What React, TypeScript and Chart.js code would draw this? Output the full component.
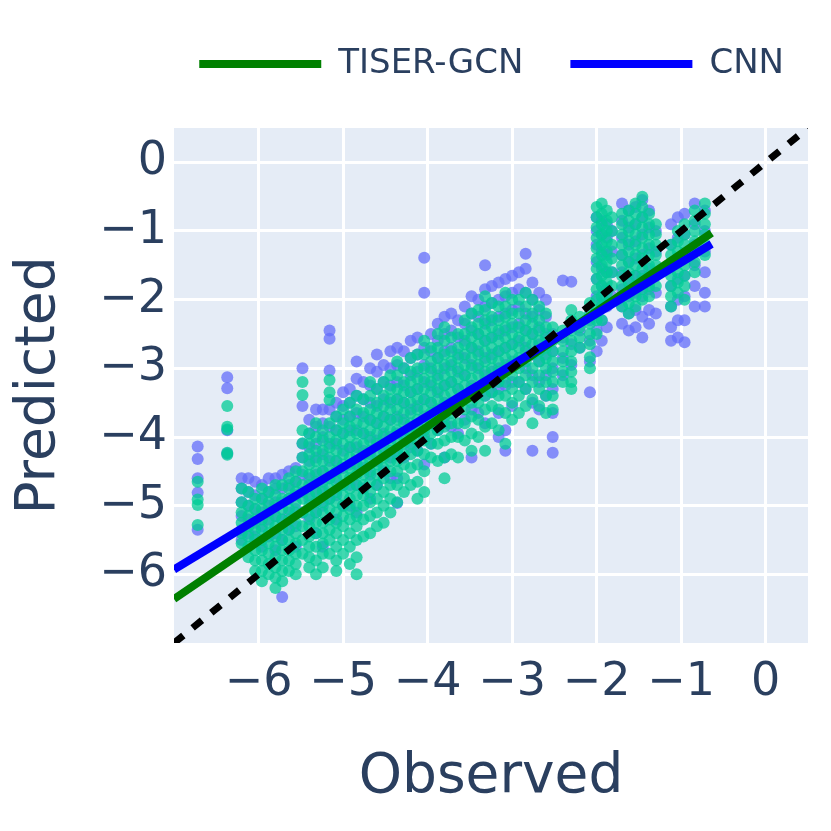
import React, { useEffect, useRef } from 'react';
import { Chart, registerables } from 'chart.js';

Chart.register(...registerables);

// observed value of each vertical stripe of compounds
const observed = [
  -6.72, -6.37, -6.2, -6.12, -6.04, -5.96, -5.88, -5.8, -5.72, -5.64, -5.56, -5.48, -5.4, -5.32,
  -5.24, -5.16, -5.08, -5.0, -4.92, -4.84, -4.76, -4.68, -4.6, -4.52, -4.44, -4.36, -4.28, -4.2,
  -4.12, -4.04, -3.96, -3.88, -3.8, -3.72, -3.64, -3.56, -3.48, -3.4, -3.32, -3.24, -3.16, -3.08,
  -3.0, -2.92, -2.84, -2.76, -2.68, -2.6, -2.52, -2.4, -2.3, -2.2, -2.08, -2.0, -1.94, -1.88,
  -1.82, -1.7, -1.62, -1.54, -1.46, -1.38, -1.3, -1.12, -1.04, -0.96, -0.84, -0.72,
];

// TISER-GCN predictions, one list per stripe
const tiserPredicted = [
  [-4.65, -4.91, -4.99, -5.28],
  [-3.55, -3.85, -3.89, -4.23, -4.26],
  [-4.75, -4.95, -5.1, -5.25, -5.4, -5.55],
  [-4.8, -5.0, -5.15, -5.3, -5.45, -5.6, -5.75],
  [-4.9, -5.05, -5.2, -5.35, -5.5, -5.65, -5.8, -5.95],
  [-4.75, -4.9, -5.05, -5.2, -5.35, -5.5, -5.65, -5.8, -5.95, -6.1],
  [-4.8, -4.95, -5.1, -5.25, -5.4, -5.55, -5.7, -5.85, -6.0],
  [-4.7, -4.85, -5.0, -5.15, -5.3, -5.45, -5.6, -5.75, -5.9, -6.05, -6.2],
  [-4.7, -4.9, -5.05, -5.2, -5.35, -5.5, -5.65, -5.8, -5.95, -6.1],
  [-4.6, -4.75, -4.9, -5.05, -5.2, -5.35, -5.5, -5.65, -5.8, -5.95],
  [-4.5, -4.65, -4.8, -4.95, -5.1, -5.25, -5.4, -5.55, -5.7, -5.85, -6.0],
  [-3.2, -3.39, -3.9, -4.09, -4.3, -4.5, -4.7, -4.9, -5.1, -5.3, -5.5, -5.7],
  [-3.95, -4.1, -4.25, -4.4, -4.55, -4.7, -4.85, -5.0, -5.15, -5.3, -5.45, -5.6, -5.75, -5.9],
  [-3.8, -4.0, -4.2, -4.35, -4.5, -4.65, -4.8, -4.95, -5.1, -5.25, -5.4, -5.6, -5.8, -6.0],
  [-3.9, -4.05, -4.2, -4.35, -4.5, -4.65, -4.8, -4.95, -5.1, -5.25, -5.4, -5.55, -5.7, -5.9],
  [-3.17, -3.35, -3.46, -3.8, -4.0, -4.15, -4.3, -4.45, -4.6, -4.75, -4.9, -5.05, -5.2, -5.35, -5.5, -5.7],
  [-3.7, -3.9, -4.05, -4.2, -4.35, -4.5, -4.65, -4.8, -4.95, -5.1, -5.25, -5.4, -5.6, -5.8, -5.95],
  [-3.6, -3.8, -3.95, -4.1, -4.25, -4.4, -4.55, -4.7, -4.85, -5.0, -5.15, -5.3, -5.5, -5.7],
  [-3.5, -3.7, -3.85, -4.0, -4.15, -4.3, -4.45, -4.6, -4.75, -4.9, -5.05, -5.2, -5.4, -5.6, -5.85],
  [-3.4, -3.6, -3.8, -3.95, -4.1, -4.25, -4.4, -4.55, -4.7, -4.85, -5.0, -5.15, -5.3, -5.5, -5.75, -6.0],
  [-3.45, -3.65, -3.8, -3.95, -4.1, -4.25, -4.4, -4.55, -4.7, -4.85, -5.0, -5.2, -5.45],
  [-3.2, -3.4, -3.6, -3.75, -3.9, -4.05, -4.2, -4.35, -4.5, -4.65, -4.8, -4.95, -5.15, -5.4],
  [-3.3, -3.5, -3.65, -3.8, -3.95, -4.1, -4.25, -4.4, -4.55, -4.7, -4.9, -5.1, -5.3],
  [-3.2, -3.4, -3.55, -3.7, -3.85, -4.0, -4.15, -4.3, -4.45, -4.6, -4.8, -5.0, -5.25],
  [-3.1, -3.3, -3.45, -3.6, -3.75, -3.9, -4.05, -4.2, -4.35, -4.5, -4.7, -4.9, -5.1],
  [-2.9, -3.1, -3.3, -3.45, -3.6, -3.75, -3.9, -4.05, -4.2, -4.35, -4.5, -4.7, -4.95],
  [-3.0, -3.2, -3.35, -3.5, -3.65, -3.8, -3.95, -4.1, -4.25, -4.4, -4.6, -4.8],
  [-2.85, -3.05, -3.2, -3.35, -3.5, -3.65, -3.8, -3.95, -4.1, -4.25, -4.45, -4.7],
  [-2.8, -3.0, -3.15, -3.3, -3.45, -3.6, -3.75, -3.9, -4.05, -4.2, -4.4, -4.65, -4.9],
  [-2.6, -2.8, -3.0, -3.15, -3.3, -3.45, -3.6, -3.75, -3.9, -4.05, -4.25, -4.5, -4.8],
  [-2.7, -2.9, -3.05, -3.2, -3.35, -3.5, -3.65, -3.8, -3.95, -4.1, -4.3],
  [-2.5, -2.7, -2.85, -3.0, -3.15, -3.3, -3.45, -3.6, -3.75, -3.9, -4.1, -4.35],
  [-2.4, -2.6, -2.8, -2.95, -3.1, -3.25, -3.4, -3.55, -3.7, -3.85, -4.05, -4.3, -4.6],
  [-2.55, -2.75, -2.9, -3.05, -3.2, -3.35, -3.5, -3.65, -3.8, -4.0, -4.25],
  [-2.5, -2.7, -2.85, -3.0, -3.15, -3.3, -3.45, -3.6, -3.8, -4.0, -4.3],
  [-2.3, -2.5, -2.65, -2.8, -2.95, -3.1, -3.25, -3.4, -3.6, -3.8, -4.05],
  [-2.2, -2.4, -2.55, -2.7, -2.85, -3.0, -3.15, -3.3, -3.5, -3.7, -3.95, -4.2],
  [-2.15, -2.35, -2.5, -2.65, -2.8, -2.95, -3.1, -3.3, -3.5, -3.75, -4.0],
  [-1.95, -2.15, -2.3, -2.45, -2.6, -2.75, -2.9, -3.05, -3.2, -3.4, -3.6, -3.85, -4.2],
  [-2.05, -2.25, -2.4, -2.55, -2.7, -2.85, -3.0, -3.15, -3.35, -3.55, -3.8],
  [-2.1, -2.3, -2.45, -2.6, -2.75, -2.9, -3.05, -3.2, -3.4, -3.6, -3.9],
  [-1.9, -2.1, -2.25, -2.4, -2.55, -2.7, -2.85, -3.0, -3.2, -3.4, -3.65, -4.1],
  [-2.0, -2.2, -2.35, -2.5, -2.65, -2.8, -2.95, -3.1, -3.3, -3.5, -3.75],
  [-2.0, -2.2, -2.4, -2.55, -2.7, -2.85, -3.0, -3.2, -3.4, -3.65],
  [-1.9, -2.1, -2.3, -2.45, -2.6, -2.75, -2.9, -3.1, -3.3, -3.55],
  [-2.0, -2.2, -2.35, -2.5, -2.65, -2.8, -3.0, -3.2, -3.45, -3.8],
  [-2.1, -2.3, -2.45, -2.6, -2.75, -2.9, -3.1, -3.3, -3.55],
  [-2.2, -2.4, -2.55, -2.7, -2.85, -3.0, -3.2, -3.4, -3.65],
  [-2.4, -2.6, -2.75, -2.9, -3.05, -3.2, -3.4, -3.6],
  [-2.45, -2.6, -2.75, -2.9, -3.05, -3.2],
  [-2.15, -2.3, -2.45, -2.6, -2.75, -2.9, -3.05, -3.2, -3.3],
  [-2.25, -2.4, -2.55, -2.7],
  [-2.05, -2.2, -2.35, -2.5, -2.65, -2.84, -3.0],
  [-0.65, -0.8, -0.95, -1.1, -1.25, -1.4, -1.55, -1.7, -1.85, -2.0, -2.15, -2.3, -2.5],
  [-0.6, -0.75, -0.9, -1.05, -1.2, -1.35, -1.5, -1.65, -1.8, -1.95, -2.1, -2.3],
  [-0.7, -0.85, -1.0, -1.15, -1.3, -1.45, -1.6, -1.75, -1.9, -2.05],
  [-0.8, -1.0, -1.2, -1.4, -1.6, -1.8],
  [-0.75, -0.9, -1.05, -1.2, -1.35, -1.5, -1.65, -1.8, -1.95, -2.1],
  [-0.7, -0.85, -1.0, -1.15, -1.3, -1.45, -1.6, -1.75, -1.9, -2.05, -2.2],
  [-0.6, -0.75, -0.9, -1.05, -1.2, -1.35, -1.5, -1.65, -1.8, -1.95, -2.1],
  [-0.5, -0.65, -0.8, -0.95, -1.1, -1.25, -1.4, -1.55, -1.7, -1.85, -2.0],
  [-0.75, -0.9, -1.05, -1.2, -1.35, -1.5, -1.65, -1.8, -1.95],
  [-0.9, -1.05, -1.2, -1.35, -1.5, -1.65, -1.8],
  [-1.2, -1.35, -1.5, -1.65, -1.8, -1.95, -2.1],
  [-1.0, -1.15, -1.3, -1.45, -1.6, -1.75, -1.9],
  [-0.9, -1.05, -1.2, -1.35, -1.5, -1.65, -1.8, -2.0],
  [-0.7, -0.85, -1.0, -1.15, -1.3, -1.45, -1.6],
  [-0.6, -0.75, -0.9, -1.05, -1.2, -1.35],
];

// CNN predictions, one list per stripe
const cnnPredicted = [
  [-4.14, -4.32, -4.6, -4.81, -5.35],
  [-3.13, -3.29, -3.9, -4.24],
  [-4.6, -4.75, -4.95, -5.15, -5.35, -5.5],
  [-4.6, -4.8, -5.0, -5.2, -5.4],
  [-4.65, -4.85, -5.05, -5.25, -5.45],
  [-4.7, -4.9, -5.1, -5.3, -5.6],
  [-4.6, -4.8, -5.0, -5.2, -5.45],
  [-4.6, -4.75, -4.95, -5.15, -5.4, -5.65],
  [-4.55, -4.75, -4.95, -5.2, -5.5, -6.33],
  [-4.5, -4.7, -4.9, -5.1, -5.35],
  [-4.45, -4.65, -4.85, -5.05, -5.3, -5.6],
  [-3.0, -3.55, -4.1, -4.3, -4.55, -4.8, -5.1],
  [-3.75, -3.95, -4.15, -4.35, -4.6, -4.9, -5.2],
  [-3.6, -3.85, -4.1, -4.3, -4.55, -4.8, -5.1, -5.4],
  [-3.6, -3.8, -4.0, -4.25, -4.5, -4.75, -5.0, -5.6],
  [-2.45, -2.57, -3.03, -3.6, -3.85, -4.1, -4.35, -4.6, -4.9],
  [-3.5, -3.7, -3.9, -4.1, -4.35, -4.6, -4.85, -5.2],
  [-3.35, -3.55, -3.75, -3.95, -4.2, -4.45, -4.7, -5.0],
  [-3.3, -3.5, -3.7, -3.9, -4.15, -4.4, -4.7, -5.0],
  [-2.9, -3.15, -3.4, -3.65, -3.9, -4.15, -4.4, -4.7, -5.1],
  [-3.2, -3.45, -3.7, -3.95, -4.2, -4.45, -4.75],
  [-3.0, -3.25, -3.5, -3.75, -4.0, -4.25, -4.55, -4.9],
  [-2.8, -3.05, -3.3, -3.55, -3.8, -4.05, -4.35, -4.7],
  [-2.95, -3.2, -3.45, -3.7, -3.95, -4.2, -4.5],
  [-2.75, -3.0, -3.25, -3.5, -3.75, -4.0, -4.3, -4.6],
  [-2.7, -2.95, -3.2, -3.45, -3.7, -3.95, -4.25, -4.6, -4.96],
  [-2.75, -3.0, -3.25, -3.5, -3.75, -4.0, -4.3],
  [-2.6, -2.85, -3.1, -3.35, -3.6, -3.85, -4.15],
  [-2.55, -2.8, -3.05, -3.3, -3.55, -3.85, -4.2],
  [-1.39, -1.9, -2.7, -2.95, -3.2, -3.45, -3.7, -4.0, -4.4],
  [-2.5, -2.75, -3.0, -3.25, -3.5, -3.8, -4.1],
  [-2.35, -2.6, -2.85, -3.1, -3.35, -3.6, -3.9],
  [-2.25, -2.5, -2.75, -3.0, -3.25, -3.5, -3.8, -4.3],
  [-2.2, -2.45, -2.7, -2.95, -3.2, -3.5, -3.85],
  [-2.3, -2.55, -2.8, -3.05, -3.3, -3.6, -3.95],
  [-2.1, -2.35, -2.6, -2.85, -3.1, -3.4, -3.75],
  [-1.95, -2.2, -2.45, -2.7, -2.95, -3.25, -3.6, -4.3],
  [-2.0, -2.25, -2.5, -2.75, -3.0, -3.3, -3.65],
  [-1.5, -1.85, -2.1, -2.35, -2.6, -2.85, -3.1, -3.4, -3.8],
  [-1.8, -2.05, -2.3, -2.55, -2.8, -3.05, -3.35],
  [-1.75, -2.0, -2.25, -2.5, -2.75, -3.0, -3.3, -3.65, -4.0],
  [-1.7, -1.95, -2.2, -2.45, -2.7, -2.95, -3.25, -3.9, -4.2],
  [-1.65, -1.9, -2.15, -2.4, -2.65, -2.9, -3.2, -3.55],
  [-1.6, -1.85, -2.1, -2.35, -2.6, -2.9, -3.2],
  [-1.33, -1.55, -1.9, -2.2, -2.45, -2.7, -3.0, -3.3],
  [-1.75, -2.0, -2.25, -2.5, -2.8, -3.1, -3.5, -4.2],
  [-1.9, -2.15, -2.4, -2.65, -2.9, -3.2, -3.6],
  [-2.0, -2.25, -2.5, -2.8, -3.1, -3.4],
  [-2.5, -2.75, -3.0, -3.3, -3.65, -4.0, -4.23],
  [-1.72, -2.55, -2.85, -3.1],
  [-1.74, -2.35, -2.65, -2.95],
  [-2.45, -2.7],
  [-2.3, -2.6, -2.9, -3.35],
  [-0.8, -1.0, -1.2, -1.45, -1.7, -1.95, -2.2, -2.45, -2.75],
  [-0.85, -1.05, -1.3, -1.55, -1.8, -2.05, -2.3, -2.6],
  [-0.9, -1.1, -1.35, -1.6, -1.85, -2.1, -2.4],
  [-1.0, -1.3, -1.6, -1.95],
  [-0.6, -0.85, -1.1, -1.35, -1.6, -1.85, -2.1, -2.35],
  [-0.7, -0.95, -1.2, -1.45, -1.7, -1.95, -2.2, -2.45],
  [-0.65, -0.9, -1.15, -1.4, -1.65, -1.9, -2.15, -2.4],
  [-0.55, -0.8, -1.05, -1.35, -1.65, -1.95, -2.25, -2.55],
  [-0.7, -0.95, -1.25, -1.55, -1.85, -2.15, -2.35],
  [-1.0, -1.3, -1.6, -1.9, -2.2],
  [-0.9, -1.2, -1.5, -1.8, -2.1, -2.4, -2.6],
  [-0.8, -1.1, -1.4, -1.7, -2.0, -2.3, -2.55],
  [-0.75, -1.05, -1.35, -1.65, -1.95, -2.3, -2.62],
  [-0.6, -0.9, -1.2, -1.5, -1.8, -2.1],
  [-0.7, -1.0, -1.3, -1.6, -1.9, -2.1],
];

// fitted regression lines and the identity line
const fitX = [-7, -0.64];
const tiserFitY = [-6.36, -1.03];
const cnnFitY = [-5.93, -1.19];
const identityX = [-7, 0.5];

const axisMin = -7;
const axisMax = 0.5;

const textColor = '#2a3f5f';
const fontFamily = '"DejaVu Sans", Verdana, sans-serif';

const toPoints = (preds: number[][]) =>
  observed.flatMap((x, i) => preds[i].map((y) => ({ x, y })));

const plotBackground = {
  id: 'plotBackground',
  beforeDraw(chart: any) {
    const { ctx, chartArea } = chart;
    ctx.save();
    ctx.fillStyle = '#E5ECF6';
    ctx.fillRect(chartArea.left, chartArea.top, chartArea.width, chartArea.height);
    ctx.restore();
  },
};

const tickLabel = (v: number | string) => {
  const n = Number(v);
  if (n === axisMin) return '';
  return n < 0 ? '\u2212' + Math.abs(n) : String(n);
};

const gridColor = (c: any) => (c.tick && c.tick.value === axisMin ? 'rgba(0,0,0,0)' : '#ffffff');

// empty spacer scales that only reserve room around the plot
const spacer = (position: string, size: number) => ({
  type: 'linear',
  position,
  display: true,
  afterFit: (s: any) => {
    if (position === 'top' || position === 'bottom') s.height = size;
    else s.width = size;
  },
  ticks: { display: false },
  grid: { display: false },
  border: { display: false },
});

const App = () => {
  const canvasRef = useRef<HTMLCanvasElement | null>(null);

  useEffect(() => {
    if (!canvasRef.current) return;

    const chart = new Chart(canvasRef.current, {
      type: 'scatter',
      data: {
        datasets: [
          {
            type: 'line',
            label: 'TISER-GCN',
            data: fitX.map((x, i) => ({ x, y: tiserFitY[i] })),
            borderColor: 'green',
            backgroundColor: 'green',
            borderWidth: 8,
            pointRadius: 0,
            order: 2,
          },
          {
            type: 'line',
            label: 'CNN',
            data: fitX.map((x, i) => ({ x, y: cnnFitY[i] })),
            borderColor: 'blue',
            backgroundColor: 'blue',
            borderWidth: 8,
            pointRadius: 0,
            order: 1,
          },
          {
            type: 'line',
            label: 'y = x',
            data: identityX.map((x) => ({ x, y: x })),
            borderColor: 'black',
            borderWidth: 7,
            borderDash: [12, 12],
            pointRadius: 0,
            order: 0,
          },
          {
            label: 'TISER-GCN points',
            data: toPoints(tiserPredicted),
            backgroundColor: 'rgba(0, 204, 150, 0.75)',
            borderWidth: 0,
            pointRadius: 6,
            order: 3,
          },
          {
            label: 'CNN points',
            data: toPoints(cnnPredicted),
            backgroundColor: 'rgba(99, 110, 250, 0.75)',
            borderWidth: 0,
            pointRadius: 6,
            order: 4,
          },
        ],
      },
      options: {
        responsive: false,
        animation: false,
        layout: { padding: 0 },
        plugins: {
          tooltip: { enabled: false },
          legend: {
            position: 'top',
            align: 'end',
            labels: {
              boxWidth: 122,
              boxHeight: 8,
              padding: 47,
              color: textColor,
              font: { family: fontFamily, size: 34 },
              generateLabels: (c: any) =>
                c.data.datasets.slice(0, 2).map((d: any, i: number) => ({
                  text: d.label,
                  fillStyle: d.borderColor,
                  strokeStyle: d.borderColor,
                  lineWidth: 0,
                  fontColor: textColor,
                  hidden: false,
                  datasetIndex: i,
                })),
            },
          },
        },
        scales: {
          x: {
            type: 'linear',
            min: axisMin,
            max: axisMax,
            afterFit: (s: any) => {
              s.height = 188;
            },
            ticks: {
              stepSize: 1,
              includeBounds: false,
              padding: 12,
              color: textColor,
              font: { family: fontFamily, size: 46 },
              callback: tickLabel,
              maxRotation: 0,
            },
            grid: { color: gridColor, lineWidth: 3, drawTicks: false },
            border: { display: false },
            title: {
              display: true,
              text: 'Observed',
              color: textColor,
              font: { family: fontFamily, size: 55 },
              padding: { top: 0, bottom: 20 },
            },
          },
          y: {
            type: 'linear',
            min: axisMin,
            max: axisMax,
            afterFit: (s: any) => {
              s.width = 174;
            },
            ticks: {
              stepSize: 1,
              includeBounds: false,
              padding: 7,
              color: textColor,
              font: { family: fontFamily, size: 46 },
              callback: tickLabel,
            },
            grid: { color: gridColor, lineWidth: 3, drawTicks: false },
            border: { display: false },
            title: {
              display: true,
              text: 'Predicted',
              color: textColor,
              font: { family: fontFamily, size: 55 },
              padding: { top: 7, bottom: 0 },
            },
          },
          yRight: spacer('right', 23),
          xTop: spacer('top', 37),
        },
      },
      plugins: [plotBackground],
    });

    return () => {
      chart.destroy();
    };
  }, []);

  return (
    <div style={{ position: 'absolute', left: 0, top: 0, width: 831, height: 831, background: '#fff' }}>
      <canvas ref={canvasRef} width={831} height={831} />
    </div>
  );
};

export default App;
